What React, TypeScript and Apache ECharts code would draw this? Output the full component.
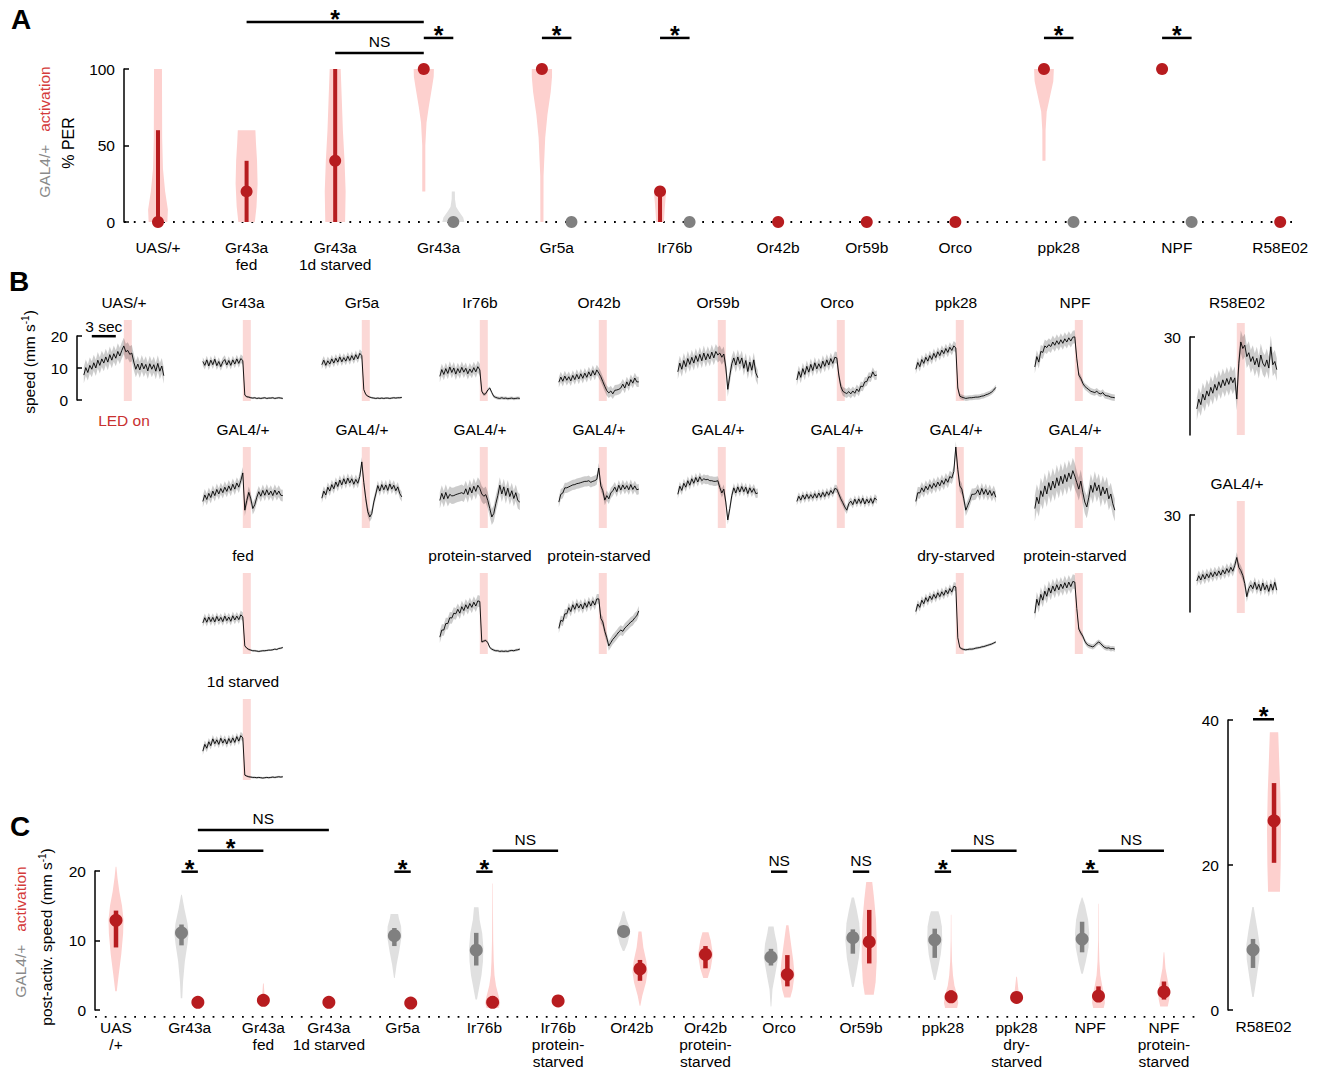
import React, { useEffect, useRef } from "react";
import * as echarts from "echarts";

// ================= DATA =================
// ---- Panel A: % PER ----
const A_LABELS = ["UAS/+", "Gr43a\nfed", "Gr43a\n1d starved", "Gr43a", "Gr5a", "Ir76b", "Or42b", "Or59b", "Orco", "ppk28", "NPF", "R58E02"];
const A_ACT_MEDIAN = [0, 20, 40, 100, 100, 20, 0, 0, 0, 100, 100, 0];
const A_ACT_Q1 = [0, 0, 0, 100, 100, 0, 0, 0, 0, 100, 100, 0];
const A_ACT_Q3 = [60, 40, 100, 100, 100, 20, 0, 0, 0, 100, 100, 0];
const A_CTRL_MEDIAN = [null, null, null, 0, 0, 0, null, null, null, 0, 0, null];
const A_ACT_VIOLIN = [
  [[0, 0.85], [8, 0.9], [20, 0.65], [35, 0.45], [55, 0.38], [100, 0.36]],
  [[0, 0.75], [10, 0.9], [25, 1.0], [40, 0.95], [52, 0.85], [60, 0.8]],
  [[0, 0.9], [20, 0.95], [40, 0.85], [60, 0.7], [80, 0.6], [100, 0.5]],
  [[20, 0.14], [50, 0.14], [65, 0.25], [75, 0.45], [88, 0.75], [95, 0.9], [100, 0.92]],
  [[0, 0.14], [30, 0.15], [55, 0.3], [70, 0.5], [85, 0.8], [95, 0.92], [100, 0.92]],
  [[0, 0.35], [8, 0.42], [15, 0.5], [20, 0.55]],
  null, null, null,
  [[40, 0.14], [60, 0.15], [72, 0.25], [82, 0.55], [92, 0.85], [100, 0.9]],
  null, null,
];
const A_CTRL_VIOLIN = [null, null, null, [[0, 1.0], [3, 0.9], [7, 0.5], [10, 0.25], [15, 0.15], [20, 0.14]], null, null, null, null, null, null, null, null];
const A_SIG = [[3, 9, 130.7, "*"], [6, 9, 110.5, "NS"], [9, 10, 120.3, "*"], [13, 14, 120.3, "*"], [17, 18, 120.3, "*"], [30, 31, 120.3, "*"], [34, 35, 120.3, "*"]];

// ---- Panel C: post-activation speed ----
const C_LABELS = ["UAS\n/+", "Gr43a", "Gr43a\nfed", "Gr43a\n1d starved", "Gr5a", "Ir76b", "Ir76b\nprotein-\nstarved", "Or42b", "Or42b\nprotein-\nstarved", "Orco", "Or59b", "ppk28", "ppk28\ndry-\nstarved", "NPF", "NPF\nprotein-\nstarved"];
const C_ACT_MEDIAN = [12.9, 1.1, 1.4, 1.1, 1.0, 1.1, 1.3, 5.9, 8.0, 5.1, 9.8, 1.9, 1.8, 2.0, 2.6];
const C_ACT_Q1 = [9.0, 1.0, 1.3, 1.0, 0.9, 0.5, 1.2, 4.2, 6.0, 3.4, 6.7, 1.2, 1.7, 1.3, 1.5];
const C_ACT_Q3 = [14.3, 1.2, 1.6, 1.2, 1.1, 2.0, 1.5, 7.2, 9.2, 7.9, 14.4, 2.8, 1.9, 3.4, 4.1];
const C_CTRL_MEDIAN = [null, 11.1, null, null, 10.7, 8.6, null, 11.3, null, 7.6, 10.4, 10.1, null, 10.2, null];
const C_CTRL_Q1 = [null, 9.3, null, null, 9.2, 6.4, null, 10.9, null, 6.4, 8.1, 7.5, null, 8.3, null];
const C_CTRL_Q3 = [null, 12.3, null, null, 11.8, 11.1, null, 11.7, null, 8.8, 11.6, 11.7, null, 12.7, null];
const C_ACT_VIOLIN = [
  [[2.7, 0.1], [5, 0.35], [8, 0.7], [11, 0.95], [13, 1.0], [15, 0.8], [17, 0.45], [19, 0.2], [20.6, 0.05]],
  [[0.6, 0.3], [1.1, 0.5], [1.7, 0.25]],
  [[0.8, 0.3], [1.4, 0.5], [2.2, 0.15], [3.8, 0.05]],
  [[0.6, 0.3], [1.1, 0.5], [1.6, 0.25]],
  [[0.5, 0.3], [1.0, 0.5], [1.5, 0.25]],
  [[0.3, 0.8], [1, 1.0], [2, 0.8], [3.5, 0.45], [5, 0.25], [7, 0.15], [10, 0.08], [14, 0.05], [18.2, 0.03]],
  [[0.6, 0.4], [1.3, 0.6], [2.2, 0.35]],
  [[0.6, 0.05], [2, 0.3], [4, 0.8], [5.5, 1.0], [7, 0.85], [9, 0.45], [11.3, 0.2]],
  [[4.6, 0.3], [6, 0.7], [8, 1.0], [10, 0.7], [11.2, 0.4]],
  [[1.8, 0.4], [3, 0.7], [5, 0.95], [7, 0.8], [9, 0.55], [11, 0.3], [12.2, 0.15]],
  [[2.2, 0.6], [4, 0.85], [7, 1.0], [10, 1.0], [13, 0.9], [16, 0.65], [18.4, 0.4]],
  [[0.3, 0.8], [1, 0.95], [2, 0.85], [3.5, 0.45], [5, 0.25], [7, 0.12], [10, 0.05], [13.7, 0.03]],
  [[1, 0.45], [1.8, 0.5], [2.8, 0.25], [4.8, 0.05]],
  [[0.3, 0.7], [1, 0.85], [2, 0.8], [3.5, 0.5], [5, 0.25], [7, 0.12], [10, 0.05], [15.3, 0.03]],
  [[0.5, 0.5], [1.5, 0.7], [2.5, 0.8], [4, 0.55], [6, 0.2], [8.3, 0.04]],
];
const C_CTRL_VIOLIN = [
  null,
  [[1.7, 0.1], [4, 0.2], [7, 0.45], [9.5, 0.8], [11, 0.95], [12.5, 0.8], [14.5, 0.4], [16.6, 0.05]],
  null, null,
  [[4.6, 0.05], [6.5, 0.3], [8.5, 0.65], [10.5, 0.95], [12, 0.9], [13.2, 0.6], [13.8, 0.5]],
  [[1.5, 0.1], [3, 0.35], [5, 0.7], [7, 0.9], [9, 0.95], [11, 0.8], [13, 0.45], [14.8, 0.3]],
  null,
  [[8.5, 0.1], [9.5, 0.5], [11, 0.85], [12, 0.75], [13, 0.4], [14.2, 0.1]],
  null,
  [[0.5, 0.05], [3, 0.2], [5, 0.55], [7.5, 0.95], [9.5, 0.8], [11, 0.5], [12, 0.35]],
  [[3.3, 0.1], [5, 0.4], [7.5, 0.8], [10, 1.0], [12.5, 0.85], [14.5, 0.5], [16.2, 0.15]],
  [[4.3, 0.1], [6, 0.45], [8, 0.8], [10, 1.0], [12, 0.95], [13.5, 0.7], [14.2, 0.5]],
  null,
  [[5.2, 0.1], [7, 0.5], [9, 0.85], [11, 0.95], [13, 0.8], [15, 0.4], [16.2, 0.05]],
  null,
];
const C_SIG = [[10, 26, 25.9, "NS"], [10, 18, 22.9, "*"], [8, 10, 19.9, "*"], [34, 36, 19.9, "*"], [44, 46, 19.9, "*"], [46, 54, 22.9, "NS"], [80, 82, 19.9, "NS"], [90, 92, 19.9, "NS"], [100, 102, 19.9, "*"], [102, 110, 22.9, "NS"], [118, 120, 19.9, "*"], [120, 128, 22.9, "NS"]];

// R58E02 (panel C, own axis)
const R58_LABEL = "R58E02";
const R58_CTRL = { median: 8.3, q1: 5.8, q3: 9.8 };
const R58_ACT = { median: 26.1, q1: 20.3, q3: 31.3 };
const R58_CTRL_VIOLIN = [[1.8, 0.1], [4, 0.45], [7, 0.9], [9, 0.95], [11, 0.65], [13, 0.3], [14.2, 0.1]];
const R58_ACT_VIOLIN = [[16.3, 0.85], [20, 0.95], [25, 1.0], [30, 0.9], [34, 0.75], [38.3, 0.6]];
const R58_SIG = [[-1, 1, 40.1, "*"]];

// ---- Panel B: speed traces (mm/s), sampled every 0.25 s from -5 s to 5 s; LED on 0–1 s ----
const TR_UAS = [8.0, 10.3, 8.8, 11.0, 9.8, 11.8, 10.2, 12.6, 11.0, 13.0, 11.7, 13.6, 12.0, 14.3, 12.6, 14.6, 13.2, 15.3, 13.9, 15.6, 17.0, 15.2, 15.6, 14.4, 14.8, 12.0, 9.8, 11.4, 9.6, 11.7, 9.9, 11.3, 9.3, 11.5, 9.8, 11.2, 9.2, 11.6, 9.2, 10.8, 7.8];
const TR_GR43A = [12.2, 11.0, 12.7, 10.8, 12.6, 11.2, 12.9, 10.9, 12.2, 10.6, 12.1, 12.8, 11.1, 12.5, 11.0, 12.7, 11.4, 13.0, 11.6, 13.1, 12.5, 1.8, 1.3, 1.2, 1.0, 0.9, 1.0, 0.8, 0.9, 0.8, 0.9, 1.0, 0.8, 0.9, 0.9, 1.0, 0.8, 0.9, 1.0, 0.9, 0.8];
const TR_GR5A = [11.2, 12.6, 11.0, 12.4, 11.4, 13.0, 11.7, 13.2, 12.0, 13.6, 12.1, 13.4, 12.3, 13.8, 12.5, 14.0, 12.7, 14.3, 13.0, 14.7, 14.0, 3.5, 2.0, 1.5, 1.2, 1.0, 0.9, 0.8, 0.9, 0.8, 0.9, 0.8, 0.9, 0.9, 0.8, 0.9, 1.0, 0.9, 1.0, 1.0, 1.1];
const TR_IR76B = [7.6, 9.7, 8.2, 10.0, 8.5, 10.5, 8.8, 10.2, 8.3, 10.0, 8.7, 10.4, 8.9, 10.1, 8.4, 9.9, 8.8, 10.3, 9.0, 10.6, 9.6, 3.0, 2.0, 2.3, 3.4, 4.0, 2.6, 1.4, 1.1, 0.9, 0.8, 1.0, 0.8, 0.9, 0.7, 0.8, 0.9, 0.7, 0.8, 0.9, 0.8];
const TR_OR42B = [5.8, 7.4, 6.1, 7.7, 6.4, 7.5, 6.2, 7.9, 6.6, 8.2, 6.8, 8.4, 7.0, 8.6, 7.3, 9.0, 7.7, 9.4, 8.0, 9.6, 8.6, 7.5, 6.0, 4.5, 3.2, 2.5, 3.1, 2.2, 3.3, 3.4, 3.6, 4.0, 5.2, 4.0, 5.9, 4.7, 6.6, 5.5, 7.1, 5.9, 5.9];
const TR_OR59B = [9.0, 11.7, 9.8, 12.5, 10.6, 13.1, 11.3, 13.5, 11.7, 14.0, 12.2, 14.4, 12.4, 14.8, 12.7, 14.6, 13.0, 15.1, 13.3, 15.3, 14.2, 14.8, 13.5, 14.5, 10.5, 3.6, 7.8, 11.5, 13.3, 11.1, 13.6, 11.5, 13.3, 10.1, 12.5, 9.1, 12.0, 9.5, 12.7, 8.7, 7.2];
const TR_ORCO = [6.5, 9.1, 7.3, 10.0, 8.2, 10.7, 8.9, 11.3, 9.4, 11.8, 9.9, 11.5, 10.1, 12.3, 10.7, 12.7, 11.1, 13.1, 11.6, 13.5, 13.3, 8.0, 4.5, 3.0, 2.6, 2.3, 2.9, 2.2, 3.1, 2.4, 3.7, 2.9, 4.6, 4.4, 5.9, 6.0, 7.5, 7.3, 9.0, 7.8, 8.0];
const TR_PPK28 = [9.8, 11.9, 10.6, 12.8, 11.6, 13.5, 12.3, 14.0, 12.8, 14.7, 13.4, 15.2, 14.0, 15.7, 14.6, 16.2, 15.0, 16.6, 15.6, 17.0, 16.4, 4.0, 1.5, 1.2, 1.0, 0.8, 0.9, 1.0, 1.0, 1.1, 1.2, 1.2, 1.3, 1.5, 1.6, 1.9, 2.1, 2.4, 2.8, 3.4, 4.2];
const TR_NPF = [10.5, 13.7, 12.0, 15.3, 15.0, 17.0, 16.5, 17.4, 16.8, 18.2, 17.2, 18.6, 17.5, 18.9, 17.8, 19.2, 18.2, 19.5, 18.5, 19.7, 19.8, 13.0, 8.0, 7.0, 5.5, 4.5, 4.0, 3.5, 3.0, 2.8, 2.6, 3.0, 2.4, 2.2, 2.6, 1.8, 1.6, 1.5, 1.2, 1.1, 1.0];
const TR_R58 = [8.0, 11.0, 9.3, 12.5, 10.7, 13.5, 11.9, 14.6, 12.8, 15.5, 13.7, 16.3, 14.5, 16.9, 15.1, 17.3, 15.5, 17.7, 16.0, 17.5, 11.0, 22.0, 28.5, 26.5, 27.5, 24.0, 25.2, 22.5, 24.0, 21.5, 23.5, 20.8, 24.5, 22.0, 21.0, 23.0, 20.5, 27.0, 21.5, 22.5, 20.0];
const TR_G_GR43A = [8.2, 10.2, 8.8, 10.7, 9.4, 11.4, 10.0, 11.9, 10.5, 12.2, 10.9, 12.6, 11.3, 13.0, 11.6, 13.5, 12.0, 13.9, 12.6, 14.6, 17.0, 5.5, 8.5, 11.0, 9.0, 6.0, 7.2, 9.5, 11.2, 9.8, 11.6, 10.1, 11.8, 10.2, 11.4, 10.0, 11.7, 10.3, 11.4, 10.1, 10.0];
const TR_G_GR5A = [9.2, 11.4, 10.2, 12.6, 11.4, 13.4, 12.1, 14.2, 12.8, 14.8, 13.3, 15.2, 13.6, 15.4, 13.9, 15.2, 13.5, 15.0, 13.8, 15.9, 20.4, 14.0, 9.0, 5.0, 3.4, 4.5, 8.0, 10.5, 13.1, 11.4, 13.4, 11.8, 13.3, 11.6, 13.6, 12.0, 13.2, 11.5, 12.7, 10.6, 9.6];
const TR_G_IR76B = [8.5, 10.7, 8.9, 11.0, 9.1, 10.4, 9.9, 10.0, 10.3, 10.5, 10.7, 10.9, 10.5, 12.1, 10.3, 12.5, 10.8, 12.9, 11.3, 13.2, 12.2, 10.5, 9.8, 10.3, 8.5, 6.0, 3.4, 4.5, 7.5, 10.0, 13.2, 10.5, 12.7, 10.0, 12.3, 9.7, 11.5, 9.1, 10.9, 8.5, 8.0];
const TR_G_OR42B = [8.0, 10.4, 10.8, 12.4, 12.4, 12.7, 13.0, 13.3, 13.4, 13.7, 13.8, 14.0, 14.2, 14.4, 14.4, 14.6, 14.1, 14.4, 14.6, 15.0, 18.5, 13.0, 11.5, 8.6, 10.0, 9.0, 10.8, 11.5, 12.6, 11.2, 13.2, 11.7, 13.3, 12.0, 13.1, 11.8, 13.4, 11.9, 13.0, 11.8, 12.0];
const TR_G_OR59B = [10.4, 12.9, 11.6, 13.8, 12.6, 14.6, 13.2, 15.2, 13.8, 15.6, 14.2, 15.8, 14.6, 15.2, 14.9, 15.0, 14.6, 14.6, 14.4, 14.4, 14.6, 12.5, 10.8, 12.0, 8.0, 2.5, 6.0, 10.0, 12.4, 10.8, 12.7, 11.1, 12.8, 11.2, 12.6, 10.6, 12.4, 11.0, 12.2, 10.6, 10.8];
const TR_G_ORCO = [8.2, 9.8, 8.6, 10.2, 8.9, 10.4, 9.1, 10.3, 9.2, 10.6, 9.3, 10.8, 9.5, 11.0, 9.7, 11.2, 10.1, 11.6, 10.6, 12.2, 12.0, 10.5, 9.0, 7.8, 6.5, 5.5, 7.5, 8.3, 7.2, 8.9, 7.5, 9.0, 7.6, 9.2, 7.4, 8.9, 7.7, 9.1, 7.6, 9.3, 8.6];
const TR_G_PPK28 = [8.2, 10.9, 10.8, 12.4, 11.2, 12.9, 11.8, 13.4, 12.2, 13.8, 12.6, 14.2, 13.0, 14.7, 13.5, 15.2, 14.1, 15.9, 15.4, 17.4, 25.0, 18.0, 13.0, 12.0, 9.0, 5.5, 7.0, 8.5, 10.4, 10.4, 10.6, 11.8, 10.2, 12.2, 10.4, 11.9, 10.2, 11.6, 10.0, 11.3, 9.5];
const TR_G_NPF = [6.0, 9.5, 7.5, 11.5, 9.7, 13.0, 10.5, 14.0, 11.7, 14.5, 12.3, 15.5, 13.1, 16.0, 13.7, 16.5, 14.3, 17.0, 15.1, 17.7, 16.0, 14.0, 12.0, 14.5, 11.0, 8.0, 6.5, 9.5, 13.2, 11.0, 14.0, 11.5, 13.3, 10.0, 12.7, 10.5, 12.3, 9.0, 10.5, 7.5, 5.5];
const TR_G_R58 = [9.8, 11.4, 10.1, 11.8, 10.4, 12.0, 10.8, 12.4, 11.1, 12.6, 11.4, 12.9, 11.6, 13.2, 12.0, 13.6, 12.4, 14.0, 12.8, 14.6, 17.0, 14.0, 13.0, 11.5, 9.0, 5.0, 7.5, 8.6, 7.4, 9.4, 7.2, 8.8, 6.8, 9.2, 7.1, 8.6, 6.6, 8.9, 7.0, 9.4, 7.0];
const TR_FED = [9.6, 11.2, 9.8, 11.4, 10.0, 11.3, 9.9, 11.6, 10.2, 11.3, 10.0, 11.7, 10.3, 11.4, 10.1, 11.8, 10.5, 11.7, 10.6, 12.1, 11.5, 2.5, 1.8, 1.4, 1.2, 1.0, 1.0, 0.9, 0.8, 0.9, 1.0, 1.0, 1.1, 1.2, 1.2, 1.3, 1.5, 1.4, 1.7, 1.8, 2.0];
const TR_IR76B_PS = [5.2, 7.4, 7.4, 9.4, 9.4, 11.2, 11.1, 12.6, 12.4, 13.8, 12.6, 14.6, 13.4, 15.2, 14.0, 15.6, 14.4, 16.0, 14.8, 16.4, 16.2, 3.7, 4.0, 4.2, 3.5, 2.0, 1.5, 1.2, 1.0, 1.0, 0.8, 0.9, 0.8, 0.9, 0.8, 1.0, 1.1, 1.0, 1.2, 1.3, 1.5];
const TR_OR42B_PS = [7.9, 10.4, 10.1, 12.4, 12.4, 14.3, 13.1, 15.2, 13.8, 15.6, 14.2, 15.4, 13.9, 15.8, 14.4, 16.2, 14.8, 16.4, 15.1, 17.0, 17.0, 11.0, 9.9, 7.0, 5.0, 2.5, 3.5, 4.5, 5.2, 6.0, 6.8, 7.4, 7.0, 8.0, 8.6, 9.2, 9.9, 10.3, 11.2, 11.8, 13.3];
const TR_PPK28_DS = [13.1, 15.4, 14.4, 16.6, 15.5, 17.4, 16.2, 17.9, 16.8, 18.4, 17.2, 18.9, 17.7, 19.2, 18.1, 19.7, 18.6, 20.2, 19.1, 20.9, 20.7, 5.0, 2.0, 1.6, 1.4, 1.3, 1.4, 1.5, 1.5, 1.6, 1.8, 1.9, 2.0, 2.2, 2.3, 2.5, 2.7, 2.9, 3.1, 3.4, 3.7];
const TR_NPF_PS = [12.6, 16.9, 15.0, 18.4, 16.6, 19.4, 17.8, 20.4, 18.8, 21.0, 19.4, 21.4, 19.8, 21.6, 20.2, 22.0, 20.4, 22.2, 20.8, 22.4, 22.2, 14.0, 7.7, 6.5, 5.5, 4.0, 3.0, 2.6, 2.4, 2.2, 2.6, 3.3, 3.7, 3.2, 2.5, 2.0, 1.8, 1.9, 1.6, 1.7, 1.5];
const TR_1D = [8.9, 11.0, 9.8, 11.8, 10.6, 12.7, 11.2, 12.4, 11.0, 12.9, 11.4, 12.6, 11.1, 12.8, 11.5, 13.0, 11.6, 13.4, 12.0, 13.7, 13.0, 1.5, 1.2, 1.0, 0.9, 0.8, 0.8, 0.7, 0.8, 0.7, 0.6, 0.7, 0.8, 0.7, 0.8, 0.9, 0.8, 0.9, 1.0, 0.9, 1.0];

// [title, column, row, trace, sd before LED, sd after LED]
const B_PLOTS: [string, number, number, number[], number, number][] = [
  ["UAS/+", 0, 0, TR_UAS, 2.5, 2.5],
  ["Gr43a", 1, 0, TR_GR43A, 1.3, 0.3],
  ["Gr5a", 2, 0, TR_GR5A, 1.3, 0.3],
  ["Ir76b", 3, 0, TR_IR76B, 1.8, 0.5],
  ["Or42b", 4, 0, TR_OR42B, 1.6, 1.6],
  ["Or59b", 5, 0, TR_OR59B, 2.3, 2.3],
  ["Orco", 6, 0, TR_ORCO, 1.8, 1.4],
  ["ppk28", 7, 0, TR_PPK28, 1.5, 0.8],
  ["NPF", 8, 0, TR_NPF, 2.0, 1.0],
  ["GAL4/+", 1, 1, TR_G_GR43A, 1.8, 1.8],
  ["GAL4/+", 2, 1, TR_G_GR5A, 1.5, 1.5],
  ["GAL4/+", 3, 1, TR_G_IR76B, 2.5, 2.5],
  ["GAL4/+", 4, 1, TR_G_OR42B, 1.6, 1.6],
  ["GAL4/+", 5, 1, TR_G_OR59B, 1.4, 1.4],
  ["GAL4/+", 6, 1, TR_G_ORCO, 1.2, 1.2],
  ["GAL4/+", 7, 1, TR_G_PPK28, 1.8, 1.8],
  ["GAL4/+", 8, 1, TR_G_NPF, 4.0, 3.5],
  ["fed", 1, 2, TR_FED, 1.3, 0.3],
  ["protein-starved", 3, 2, TR_IR76B_PS, 1.8, 0.4],
  ["protein-starved", 4, 2, TR_OR42B_PS, 1.5, 1.5],
  ["dry-starved", 7, 2, TR_PPK28_DS, 1.3, 0.4],
  ["protein-starved", 8, 2, TR_NPF_PS, 2.2, 0.8],
  ["1d starved", 1, 3, TR_1D, 1.2, 0.3],
];
const B_R58_PLOTS: [string, number, number[], number, number][] = [
  ["R58E02", 0, TR_R58, 3.5, 3.5],
  ["GAL4/+", 1, TR_G_R58, 1.6, 1.6],
];

// ================= LAYOUT / STYLE =================
const FONT = "'Liberation Sans', Arial, Helvetica, sans-serif";
const FS = 15.5;
const RED = "#b71c1f";
const PINK = "#fdd0ce";
const GRAY = "#808080";
const GRAY_L = "#e0e0e0";
const LED = "#fbd8d6";
const A_SLOTS = [0, 3, 6, 9, 13, 17, 21, 24, 27, 30, 34, 38];
const C_SLOTS = [0, 9, 18, 26, 35, 45, 54, 63, 72, 81, 91, 101, 110, 119, 128];
const B_COLS = [124, 243, 362, 480, 599, 718, 837, 956, 1075];
const B_ROW_TOPS = [320, 447, 573, 699];
const B_T = TR_UAS.map((_, i) => -5 + 0.25 * i);

type Item = { x: number; med: number; q1: number | null; q3: number | null; profile: number[][] | null; fill: string; bar: string; dot: string };

function visibleY(min: number, max: number, interval: number, extra: any = {}) {
  return {
    type: "value", min, max, interval,
    axisLine: { show: true, onZero: false, lineStyle: { color: "#000", width: 1.5 } },
    axisTick: { show: true, inside: true, length: 5, lineStyle: { color: "#000", width: 1.5 }, ...(extra.tick || {}) },
    axisLabel: { show: true, color: "#000", fontSize: FS, fontFamily: FONT, margin: 9, ...(extra.label || {}) },
    splitLine: { show: false },
  };
}
function hidden(min: number, max: number) {
  return { type: "value", min, max, show: false, splitLine: { show: false }, axisLine: { onZero: false } };
}

function violinSeries(gi: number, items: Item[], hw: number, barW: number) {
  return {
    type: "custom", coordinateSystem: "cartesian2d", xAxisIndex: gi, yAxisIndex: gi, silent: true, z: 2,
    data: items.map((it) => [it.x, it.med]),
    renderItem: (params: any, api: any) => {
      const it = items[params.dataIndex];
      const ch: any[] = [];
      if (it.profile) {
        const right = it.profile.map(([v, w]) => { const p = api.coord([it.x, v]); return [p[0] + w * hw, p[1]]; });
        const left = it.profile.slice().reverse().map(([v, w]) => { const p = api.coord([it.x, v]); return [p[0] - w * hw, p[1]]; });
        ch.push({ type: "polygon", shape: { points: right.concat(left) }, style: { fill: it.fill } });
      }
      if (it.q1 != null && it.q3 != null && it.q3 > it.q1) {
        const a = api.coord([it.x, it.q1]);
        const b = api.coord([it.x, it.q3]);
        ch.push({ type: "line", shape: { x1: a[0], y1: a[1], x2: b[0], y2: b[1] }, style: { stroke: it.bar, lineWidth: barW } });
      }
      return { type: "group", children: ch };
    },
  };
}
function dotSeries(gi: number, items: Item[], size: number) {
  return {
    type: "scatter", xAxisIndex: gi, yAxisIndex: gi, silent: true, z: 5, symbolSize: size, clip: false,
    data: items.map((it) => ({ value: [it.x, it.med], itemStyle: { color: it.dot, opacity: 1 } })),
  };
}
function sigSeries(gi: number, sig: any[]) {
  return {
    type: "custom", coordinateSystem: "cartesian2d", xAxisIndex: gi, yAxisIndex: gi, silent: true, z: 6,
    data: sig.map((s) => [s[0], s[2]]),
    renderItem: (params: any, api: any) => {
      const [x1, x2, lv, label] = sig[params.dataIndex];
      const a = api.coord([x1, lv]);
      const b = api.coord([x2, lv]);
      const star = label === "*";
      return {
        type: "group",
        children: [
          { type: "line", shape: { x1: a[0], y1: a[1], x2: b[0], y2: b[1] }, style: { stroke: "#000", lineWidth: 2.5 } },
          { type: "text", x: (a[0] + b[0]) / 2, y: a[1] - (star ? 3 : 11), style: { text: label, align: "center", verticalAlign: "middle", fontSize: star ? 25 : FS, fontWeight: star ? "bold" : "normal", fill: "#000", fontFamily: FONT } },
        ],
      };
    },
  };
}
function labelSeries(gi: number, labels: { x: number; text: string }[], dy: number) {
  return {
    type: "custom", coordinateSystem: "cartesian2d", xAxisIndex: gi, yAxisIndex: gi, silent: true, z: 6,
    data: labels.map((l) => [l.x, 0]),
    renderItem: (params: any, api: any) => {
      const l = labels[params.dataIndex];
      const p = api.coord([l.x, 0]);
      return { type: "text", x: p[0], y: p[1] + dy, style: { text: l.text, align: "center", verticalAlign: "top", fontSize: FS, lineHeight: 17, fill: "#000", fontFamily: FONT } };
    },
  };
}
function dottedLine(gi: number, x0: number, x1: number, y: number) {
  return {
    type: "line", xAxisIndex: gi, yAxisIndex: gi, silent: true, z: 1, clip: false, symbol: "none",
    data: [[x0, y], [x1, y]],
    lineStyle: { color: "#000", width: 1.8, type: [1.8, 8] },
  };
}

function buildOption() {
  const grid: any[] = [];
  const xAxis: any[] = [];
  const yAxis: any[] = [];
  const series: any[] = [];
  const graphic: any[] = [];
  const add = (g: any, x: any, y: any) => {
    grid.push({ ...g, outerBoundsMode: "none", containLabel: false });
    const gi = grid.length - 1;
    xAxis.push({ ...x, gridIndex: gi });
    yAxis.push({ ...y, gridIndex: gi });
    return gi;
  };

  // ----- Panel A -----
  const gA = add({ left: 124, top: 69, width: 1176, height: 153 }, hidden(-1.151, 38.67), visibleY(0, 100, 50));
  const aItems: Item[] = [];
  const aLabels: { x: number; text: string }[] = [];
  A_LABELS.forEach((lab, i) => {
    const s = A_SLOTS[i];
    aItems.push({ x: s, med: A_ACT_MEDIAN[i], q1: A_ACT_Q1[i], q3: A_ACT_Q3[i], profile: A_ACT_VIOLIN[i], fill: PINK, bar: RED, dot: RED });
    const hasCtrl = A_CTRL_MEDIAN[i] != null;
    if (hasCtrl) aItems.push({ x: s + 1, med: A_CTRL_MEDIAN[i] as number, q1: null, q3: null, profile: A_CTRL_VIOLIN[i], fill: GRAY_L, bar: GRAY, dot: GRAY });
    aLabels.push({ x: hasCtrl ? s + 0.5 : s, text: lab });
  });
  series.push(dottedLine(gA, -1.151, 38.67, 0));
  series.push(violinSeries(gA, aItems, 11, 4));
  series.push(dotSeries(gA, aItems, 12));
  series.push(sigSeries(gA, A_SIG));
  series.push(labelSeries(gA, aLabels, 16.5));

  // ----- Panel C -----
  const gC = add({ left: 95, top: 871, width: 1100, height: 139 }, hidden(-2.565, 131.79), visibleY(0, 20, 10));
  const cItems: Item[] = [];
  C_LABELS.forEach((_, i) => {
    const s = C_SLOTS[i];
    const hasCtrl = C_CTRL_MEDIAN[i] != null;
    if (hasCtrl) cItems.push({ x: s - 1, med: C_CTRL_MEDIAN[i] as number, q1: C_CTRL_Q1[i], q3: C_CTRL_Q3[i], profile: C_CTRL_VIOLIN[i], fill: GRAY_L, bar: GRAY, dot: GRAY });
    cItems.push({ x: hasCtrl ? s + 1 : s, med: C_ACT_MEDIAN[i], q1: C_ACT_Q1[i], q3: C_ACT_Q3[i], profile: C_ACT_VIOLIN[i], fill: PINK, bar: RED, dot: RED });
  });
  series.push(dottedLine(gC, -2.565, 143.9, -1));
  series.push(violinSeries(gC, cItems, 7.5, 4.5));
  series.push(dotSeries(gC, cItems, 13));
  series.push(sigSeries(gC, C_SIG));
  series.push(labelSeries(gC, C_LABELS.map((t, i) => ({ x: C_SLOTS[i], text: t })), 8.5));

  const gR = add({ left: 1228, top: 720, width: 62, height: 290 }, hidden(-3.38, 2.52), visibleY(0, 40, 20));
  const rItems: Item[] = [
    { x: -1, med: R58_CTRL.median, q1: R58_CTRL.q1, q3: R58_CTRL.q3, profile: R58_CTRL_VIOLIN, fill: GRAY_L, bar: GRAY, dot: GRAY },
    { x: 1, med: R58_ACT.median, q1: R58_ACT.q1, q3: R58_ACT.q3, profile: R58_ACT_VIOLIN, fill: PINK, bar: RED, dot: RED },
  ];
  series.push(violinSeries(gR, rItems, 7, 4.5));
  series.push(dotSeries(gR, rItems, 13));
  series.push(sigSeries(gR, R58_SIG));
  series.push({
    type: "custom", coordinateSystem: "cartesian2d", xAxisIndex: gR, yAxisIndex: gR, silent: true, z: 6, data: [[0, 0]],
    renderItem: (_p: any, api: any) => {
      const p = api.coord([0, 0]);
      return { type: "text", x: p[0], y: p[1] + 8.5, style: { text: R58_LABEL, align: "center", verticalAlign: "top", fontSize: FS, fill: "#000", fontFamily: FONT } };
    },
  });

  // ----- Panel B -----
  const traceSeries = (gi: number, ys: number[], sdPre: number, sdPost: number, ymax: number) => {
    series.push({
      type: "custom", coordinateSystem: "cartesian2d", xAxisIndex: gi, yAxisIndex: gi, silent: true, z: 2, data: [[0, 0]],
      renderItem: (_p: any, api: any) => {
        const a = api.coord([0, ymax]);
        const b = api.coord([1, 0]);
        const up = ys.map((v, i) => api.coord([B_T[i], v + (i > 20 ? sdPost : sdPre)]));
        const lo = ys.map((v, i) => api.coord([B_T[i], Math.max(0, v - (i > 20 ? sdPost : sdPre))])).reverse();
        return {
          type: "group",
          children: [
            { type: "rect", shape: { x: a[0], y: a[1], width: b[0] - a[0], height: b[1] - a[1] }, style: { fill: LED } },
            { type: "polygon", shape: { points: up.concat(lo) }, style: { fill: "rgba(0,0,0,0.2)" } },
          ],
        };
      },
    });
    series.push({
      type: "line", xAxisIndex: gi, yAxisIndex: gi, silent: true, z: 3, symbol: "none", clip: false,
      data: ys.map((v, i) => [B_T[i], v]),
      lineStyle: { color: "#000", width: 0.9 },
    });
  };
  let uasGrid = -1;
  B_PLOTS.forEach(([title, col, row, ys, sdPre, sdPost]) => {
    const c = B_COLS[col];
    const top = B_ROW_TOPS[row];
    const gi = add({ left: c - 41, top, width: 82, height: 81 }, hidden(-5.1, 5.15), hidden(0, 25));
    if (col === 0 && row === 0) uasGrid = gi;
    traceSeries(gi, ys, sdPre, sdPost, 25);
    graphic.push({ type: "text", x: c, y: top - 18, style: { text: title, align: "center", verticalAlign: "middle", fontSize: FS, fill: "#000", fontFamily: FONT } });
  });
  B_R58_PLOTS.forEach(([title, row, ys, sdPre, sdPost]) => {
    const c = 1237;
    const top = row === 0 ? 323 : 501;
    const gi = add({ left: c - 41, top, width: 82, height: 112 }, hidden(-5.1, 5.15), hidden(0, 34.3));
    traceSeries(gi, ys, sdPre, sdPost, 34.3);
    graphic.push({ type: "text", x: c, y: top - (row === 0 ? 21 : 18), style: { text: title, align: "center", verticalAlign: "middle", fontSize: FS, fill: "#000", fontFamily: FONT } });
    add({ left: 1190, top: top + 14, width: 1, height: 98 - (row === 0 ? 0 : 1) }, hidden(0, 1),
      visibleY(0, 30, 30, { tick: { customValues: [30] }, label: { customValues: [30], formatter: (v: number) => (v === 30 ? "30" : "") } }));
  });
  // speed axis for UAS/+ plot
  add({ left: 77, top: 336, width: 1, height: 64 }, hidden(0, 1), visibleY(0, 20, 10));
  // 3 sec scale bar (t = -4 .. -1 s at 20 mm/s)
  series.push({
    type: "custom", coordinateSystem: "cartesian2d", xAxisIndex: uasGrid, yAxisIndex: uasGrid, silent: true, z: 6, data: [[-4, 20]],
    renderItem: (_p: any, api: any) => {
      const a = api.coord([-4, 20]);
      const b = api.coord([-1, 20]);
      return {
        type: "group",
        children: [
          { type: "line", shape: { x1: a[0], y1: a[1], x2: b[0], y2: b[1] }, style: { stroke: "#000", lineWidth: 2.5 } },
          { type: "text", x: (a[0] + b[0]) / 2, y: a[1] - 10, style: { text: "3 sec", align: "center", verticalAlign: "middle", fontSize: FS, fill: "#000", fontFamily: FONT } },
        ],
      };
    },
  });

  // ----- texts -----
  const letter = (t: string, x: number, y: number) => ({ type: "text", x, y, style: { text: t, align: "center", verticalAlign: "middle", fontSize: 28, fontWeight: "bold", fill: "#000", fontFamily: FONT } });
  graphic.push(letter("A", 21, 19), letter("B", 19, 281), letter("C", 20, 826));
  const rot = (text: string, x: number, y: number, extra: any = {}) => ({
    type: "text", x, y, rotation: Math.PI / 2,
    style: { text, align: "center", verticalAlign: "middle", fontSize: FS, fill: "#000", fontFamily: FONT, ...extra },
  });
  const richGA = { g: { fill: "#8a8a8a", color: "#8a8a8a", fontSize: FS, fontFamily: FONT }, r: { fill: "#d43a3a", color: "#d43a3a", fontSize: FS, fontFamily: FONT } };
  const richSup = { n: { fontSize: FS, fontFamily: FONT, fill: "#000", color: "#000" }, s: { fontSize: 10, fontFamily: FONT, fill: "#000", color: "#000", padding: [0, 0, 8, 0] } };
  graphic.push(rot("% PER", 68, 143, { fontSize: 16 }));
  graphic.push(rot("{g|GAL4/+}   {r|activation}", 44, 132, { rich: richGA }));
  graphic.push(rot("{n|speed (mm s}{s|-1}{n|)}", 29, 362, { rich: richSup }));
  graphic.push(rot("{n|post-activ. speed (mm s}{s|-1}{n|)}", 46, 937, { rich: richSup }));
  graphic.push(rot("{g|GAL4/+}   {r|activation}", 20, 932, { rich: richGA }));
  graphic.push({ type: "text", x: 124, y: 420, style: { text: "LED on", align: "center", verticalAlign: "middle", fontSize: FS, fill: "#c8302f", fontFamily: FONT } });

  return { animation: false, backgroundColor: "#fff", textStyle: { fontFamily: FONT }, grid, xAxis, yAxis, series, graphic };
}

export default function App() {
  const ref = useRef<HTMLDivElement>(null);
  useEffect(() => {
    document.body.style.margin = "0";
    const chart = echarts.init(ref.current as HTMLDivElement, null, { renderer: "svg" });
    chart.setOption(buildOption() as any);
    return () => chart.dispose();
  }, []);
  return <div ref={ref} style={{ width: 1321, height: 1070 }} />;
}
